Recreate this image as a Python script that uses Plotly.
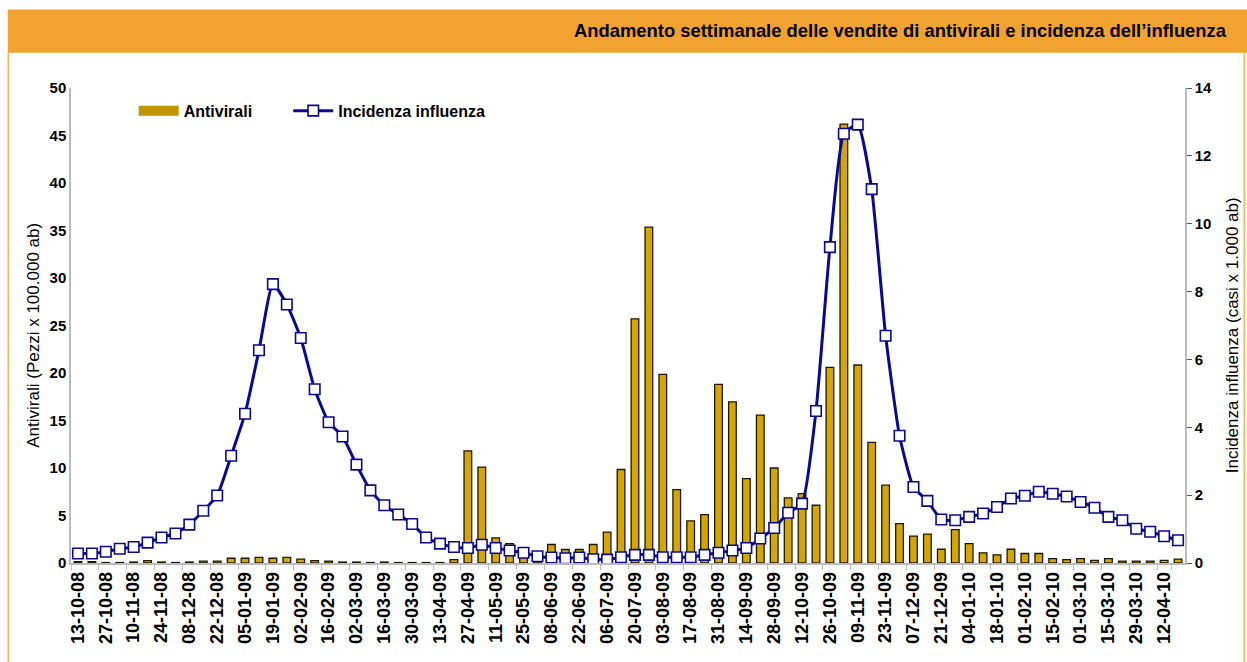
import pandas as pd
import plotly.graph_objects as go

# ---- data (weekly, Monday dates) ----
weeks = [d.strftime("%d-%m-%y") for d in pd.date_range("2008-10-13", periods=80, freq="7D")]

antivirali = [
    0.15, 0.15, 0.05, 0.05, 0.10, 0.25, 0.10, 0.05, 0.10, 0.20,
    0.20, 0.50, 0.50, 0.60, 0.50, 0.60, 0.40, 0.25, 0.20, 0.10,
    0.10, 0.05, 0.10, 0.05, 0.05, 0.05, 0.05, 0.36, 11.8, 10.1,
    2.65, 2.04, 1.20, 0.40, 1.95, 1.42, 1.42, 1.95, 3.25, 9.84,
    25.7, 35.35, 19.86, 7.73, 4.43, 5.10, 18.8, 16.97, 8.89, 15.57,
    10.0, 6.85, 7.31, 6.08, 20.6, 46.2, 20.84, 12.69, 8.19, 4.15,
    2.83, 3.05, 1.45, 3.52, 2.04, 1.07, 0.86, 1.45, 1.00, 1.00,
    0.46, 0.36, 0.46, 0.28, 0.46, 0.20, 0.20, 0.20, 0.28, 0.40,
]

incidenza = [
    0.28, 0.28, 0.33, 0.42, 0.47, 0.60, 0.75, 0.87, 1.13, 1.54,
    1.99, 3.16, 4.40, 6.27, 8.22, 7.62, 6.63, 5.12, 4.15, 3.73,
    2.90, 2.14, 1.70, 1.43, 1.15, 0.75, 0.57, 0.47, 0.44, 0.54,
    0.44, 0.37, 0.30, 0.20, 0.16, 0.14, 0.16, 0.11, 0.10, 0.17,
    0.24, 0.24, 0.17, 0.17, 0.17, 0.24, 0.30, 0.37, 0.44, 0.72,
    1.03, 1.48, 1.75, 4.48, 9.31, 12.65, 12.92, 11.02, 6.70, 3.75,
    2.24, 1.83, 1.28, 1.26, 1.36, 1.46, 1.65, 1.90, 1.98, 2.10,
    2.04, 1.96, 1.80, 1.63, 1.36, 1.26, 1.01, 0.92, 0.79, 0.67,
]

tick_labels = weeks[::2]

TITLE = "Andamento settimanale delle vendite di antivirali e incidenza dell\u2019influenza"
FONT = "Liberation Sans, Arial, sans-serif"
NAVY = "#0A0A8E"
ORANGE = "#F2A230"
GOLD = "#D6A600"

fig = go.Figure()
fig.add_trace(go.Bar(
    x=weeks, y=antivirali, name="Antivirali", showlegend=False,
    marker=dict(color=GOLD, line=dict(color="#1E1800", width=1.3)),
    width=0.55, yaxis="y",
))
# legend swatch for the bars (wide rectangle like the original)
fig.add_trace(go.Scatter(
    x=[None], y=[None], name="Antivirali" + "\u00a0" * 7, mode="lines",
    line=dict(color="#C09500", width=11), showlegend=True,
))
fig.add_trace(go.Scatter(
    x=weeks, y=incidenza, name="Incidenza influenza", yaxis="y2",
    mode="lines+markers",
    line=dict(color=NAVY, width=3, shape="spline", smoothing=0.5),
    marker=dict(symbol="square", size=10.5, color="white", line=dict(color=NAVY, width=1.6)),
))

# paper-coordinate helpers (plot area: x 71.3..1185.7 px, y 88.3..562.7 px)
def px(x):
    return (x - 71.3) / 1114.4

def py(y):
    return (562.7 - y) / 474.4

shapes = [
    dict(type="rect", xref="paper", yref="paper", x0=px(8), x1=px(1252), y0=py(53), y1=py(10),
         fillcolor=ORANGE, line=dict(width=0), layer="below"),
    dict(type="line", xref="paper", yref="paper", x0=px(8.5), x1=px(8.5), y0=py(53), y1=py(665),
         line=dict(color="#F5B45A", width=1.5)),
    dict(type="line", xref="paper", yref="paper", x0=px(1245), x1=px(1245), y0=py(53), y1=py(665),
         line=dict(color="#F5B45A", width=1.5)),
]

annotations = [
    dict(text=TITLE, xref="paper", yref="paper", x=px(1230), y=py(31), xanchor="right", yanchor="middle",
         showarrow=False,
         font=dict(family=FONT, size=18.4, color="black", weight="bold")),
    dict(text="Antivirali (Pezzi x 100.000 ab)", xref="paper", yref="paper", x=px(33), y=py(335),
         xanchor="center", yanchor="middle", textangle=-90, showarrow=False,
         font=dict(family=FONT, size=17, color="black")),
    dict(text="Incidenza influenza (casi x 1.000 ab)", xref="paper", yref="paper", x=px(1233), y=py(335),
         xanchor="center", yanchor="middle", textangle=-90, showarrow=False,
         font=dict(family=FONT, size=17, color="black")),
]

fig.update_layout(
    width=1247, height=662,
    margin=dict(l=71, r=62, t=88, b=99, autoexpand=False),
    paper_bgcolor="white", plot_bgcolor="white",
    font=dict(family=FONT, color="black"),
    bargap=0.45,
    showlegend=True,
    legend=dict(orientation="h", x=px(134), y=py(111), xanchor="left", yanchor="middle",
                font=dict(family=FONT, size=16, color="black", weight="bold"),
                bgcolor="rgba(0,0,0,0)", itemwidth=40),
    xaxis=dict(type="category", range=[-0.5, 79.5], tickmode="array", tickvals=tick_labels,
               ticktext=tick_labels, tickangle=-90, automargin=False,
               tickfont=dict(family=FONT, size=18, color="black", weight="bold"),
               ticks="outside", tickson="boundaries", ticklen=5, tickcolor="#BBBBBB",
               showline=True, linecolor="#BBBBBB", linewidth=1.5, showgrid=False, zeroline=False),
    yaxis=dict(range=[0, 50], dtick=5, showgrid=False, zeroline=False, automargin=False,
               showline=True, linecolor="#BBBBBB", linewidth=1.5, ticks="",
               tickfont=dict(family=FONT, size=15, color="black", weight="bold")),
    yaxis2=dict(range=[0, 14], dtick=2, overlaying="y", side="right", showgrid=False, zeroline=False,
                automargin=False,
                showline=True, linecolor="#BBBBBB", linewidth=1.5, ticks="outside", ticklen=5,
                tickcolor="#555555",
                tickfont=dict(family=FONT, size=15, color="black", weight="bold")),
    shapes=shapes,
    annotations=annotations,
)

fig.write_html("out.html", config={"displayModeBar": False},
               post_script="document.body.style.margin='0px';document.body.style.padding='0px';")
